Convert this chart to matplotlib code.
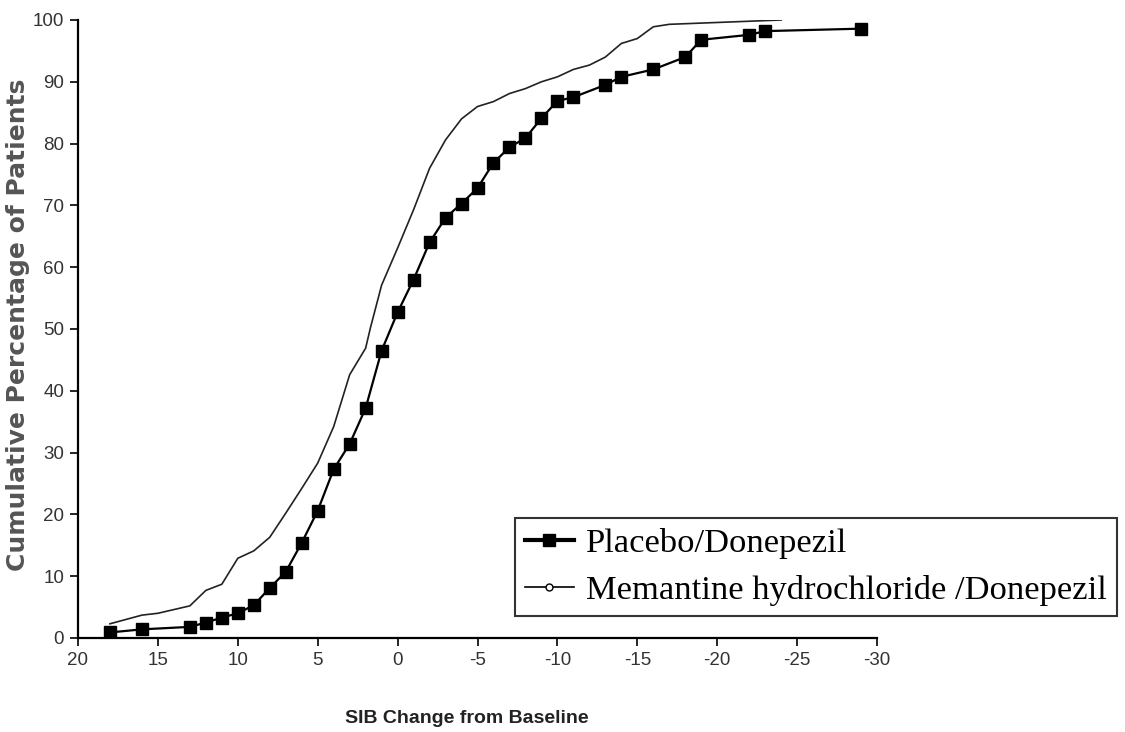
import matplotlib
matplotlib.use("Agg")
import matplotlib.pyplot as plt
from matplotlib.lines import Line2D

# SIB change from baseline (x) vs cumulative % of patients (y)
placebo_x = [18, 16, 13, 12, 11, 10, 9, 8, 7, 6, 5, 4, 3, 2, 1, 0,
             -1, -2, -3, -4, -5, -6, -7, -8, -9, -10, -11, -13, -14,
             -16, -18, -19, -22, -23, -29]
placebo_y = [0.9, 1.4, 1.8, 2.5, 3.3, 4.0, 5.3, 8.1, 10.7, 15.4, 20.6,
             27.3, 31.4, 37.2, 46.5, 52.7, 58.0, 64.0, 68.0, 70.3, 72.8,
             76.9, 79.4, 80.9, 84.1, 86.9, 87.5, 89.5, 90.8, 92.0, 94.0,
             96.8, 97.6, 98.2, 98.6]

memantine_x = [18, 16, 15, 14, 13, 12, 11, 10, 9, 8, 7, 6, 5, 4, 3, 2,
               1.7, 1, 0, -1, -2, -3, -4, -5, -6, -7, -8, -9, -10, -11,
               -12, -13, -14, -15, -16, -17, -24]
memantine_y = [2.3, 3.7, 4.0, 4.6, 5.2, 7.7, 8.7, 12.9, 14.1, 16.3, 20.2,
               24.2, 28.3, 34.2, 42.6, 46.9, 50.2, 57.1, 63.1, 69.3, 76.0,
               80.6, 84.0, 86.0, 86.8, 88.1, 88.9, 90.0, 90.8, 92.0, 92.7,
               94.0, 96.2, 97.0, 98.9, 99.3, 100.0]

labels = ["Placebo/Donepezil", "Memantine hydrochloride /Donepezil"]

xticks = [20, 15, 10, 5, 0, -5, -10, -15, -20, -25, -30]
yticks = [0, 10, 20, 30, 40, 50, 60, 70, 80, 90, 100]

tickfont = 'Liberation Sans'

fig = plt.figure(figsize=(11.25, 7.32), dpi=100)
ax = fig.add_axes([78/1125, 1 - 638/732, 799/1125, 618/732])

ax.plot(placebo_x, placebo_y, color='black', lw=1.6, marker='s',
        markersize=8, zorder=3)
ax.plot(memantine_x, memantine_y, color='#222222', lw=1.2, zorder=2)

ax.set_xlim(20, -30)
ax.set_ylim(0, 100)
ax.set_xticks(xticks)
ax.set_yticks(yticks)
ax.set_xticklabels([str(t) for t in xticks], family=tickfont, fontsize=13.5,
                   color='#333333')
ax.set_yticklabels([str(t) for t in yticks], family=tickfont, fontsize=13.5,
                   color='#333333')
ax.tick_params(direction='out', length=6, width=1.2, pad=4)
for s in ['top', 'right']:
    ax.spines[s].set_visible(False)
for s in ['left', 'bottom']:
    ax.spines[s].set_linewidth(1.6)
ax.margins(0)

ax.set_xlabel("SIB Change from Baseline", family=tickfont, fontsize=14,
              fontweight='bold', color='#222222')
ax.xaxis.set_label_coords((467 - 78) / 799, -(710 - 638) / 618)
ax.set_ylabel("Cumulative Percentage of Patients", family='DejaVu Sans',
              fontsize=18, fontweight='bold', color='#555555')
ax.yaxis.set_label_coords(-(78 - 30) / 799, (638 - 325) / 618)

handles = [Line2D([], [], color='black', lw=3, marker='s', markersize=9),
           Line2D([], [], color='black', lw=1.2, marker='o', markersize=5,
                  markerfacecolor='white', markeredgewidth=1)]
leg = ax.legend(handles, labels,
                loc='upper left', bbox_to_anchor=(515/1125, 1 - 518/732),
                bbox_transform=fig.transFigure, borderaxespad=0,
                fancybox=False, frameon=True, edgecolor='black',
                handlelength=1.4, handletextpad=0.35, borderpad=0.3,
                labelspacing=0.45,
                prop={'family': 'Liberation Serif', 'size': 24.8})
leg.get_frame().set_linewidth(1.5)

fig.savefig("out.png", dpi=100)
